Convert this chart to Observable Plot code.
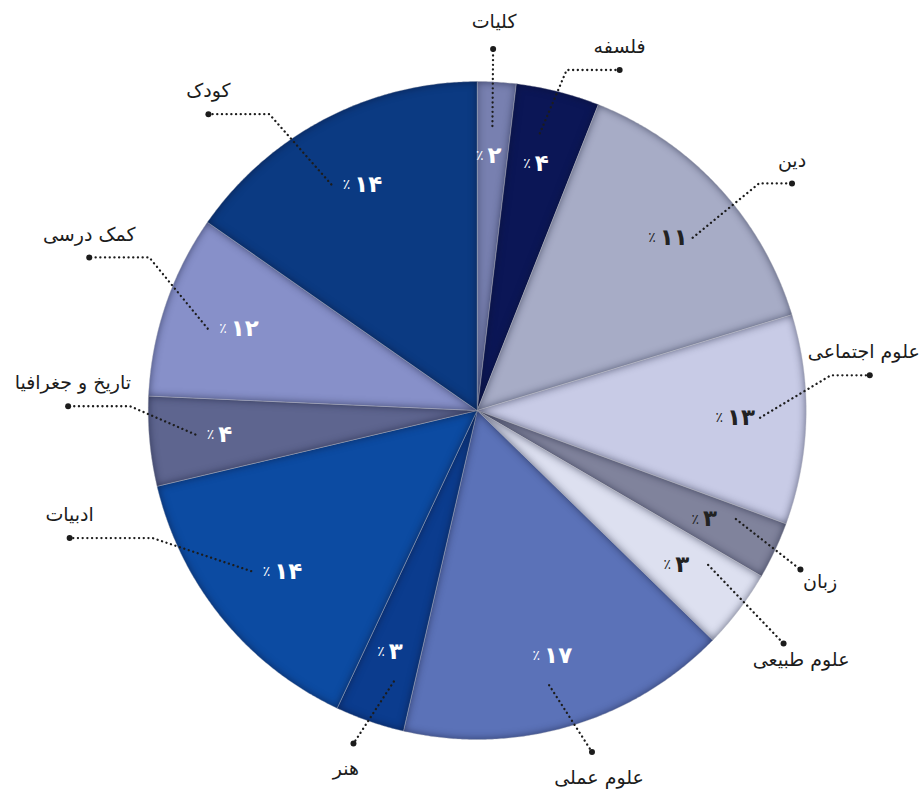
<!DOCTYPE html>
<html><head><meta charset="utf-8">
<script src="https://cdn.jsdelivr.net/npm/d3@7"></script>
<script src="https://cdn.jsdelivr.net/npm/@observablehq/plot@0.6"></script>
<style>html,body{margin:0;padding:0;background:#fff;} #chart svg{display:block;}</style>
</head><body><div id="chart"></div>
<script>
// ---- data (clockwise from 12 o'clock) ----
const categories = ["کلیات","فلسفه","دین","علوم اجتماعی","زبان","علوم طبیعی","علوم عملی","هنر","ادبیات","تاریخ و جغرافیا","کمک درسی","کودک"];
const shares = [1.9, 4.1, 14.3, 10.3, 2.8, 3.9, 16.3, 3.4, 14.3, 4.4, 9.0, 15.3];   // slice sizes as drawn (%)
const percentLabels = [2, 4, 11, 13, 3, 3, 17, 3, 14, 4, 12, 14];                  // printed percentages

// ---- styles / annotation layout ----
const sliceColors = ["#7880b0","#0b1656","#a7acc6","#c8cbe6","#80839c","#dde0f0","#5b72b8","#0b3c8e","#0c4ba2","#5e658f","#8790c9","#0b3a82"];
const percentInk = ["#fff","#fff","#222","#222","#222","#222","#fff","#fff","#fff","#fff","#fff","#fff"];
const calloutNudge = [-0.9, 0.5, 3.8, -7.3, 1.0, 0, -2.2, 1.3, 17.6, 6.1, 6.3, -7.5]; // degrees from slice middle
const calloutReach = [1.1, 1.07, 1.1, 1.08, 1.095, 1.17, 1.095, 1.08, 1.06, 1.055, 1.1, 1.1]; // × radius
const calloutTail = [0, 53, 33, 39, 0, 0, 0, 0, 83, 62, 60, 61];                     // horizontal tail length

const W = 922, H = 793, CX = 476.7, CY = 410, R = 329;
const FONT = "DejaVu Sans, Noto Sans, sans-serif";
const NAME_SIZE = 19;
const deg = Math.PI / 180;
const fa = n => String(n).replace(/\d/g, d => "۰۱۲۳۴۵۶۷۸۹"[d]);
const polar = (a, r) => ({x: r * Math.sin(a), y: r * Math.cos(a)});

const rows = categories.map((name, i) => ({
  name, share: shares[i], pct: percentLabels[i], color: sliceColors[i],
  ink: percentInk[i], nudge: calloutNudge[i], reach: calloutReach[i], tail: calloutTail[i]
}));
const arcs = d3.pie().sort(null).value(d => d.share)(rows);

const slicePts = arcs.flatMap(p => {
  const n = Math.max(2, Math.ceil((p.endAngle - p.startAngle) / (0.4 * deg)));
  const pts = [{x: 0, y: 0}];
  for (let i = 0; i <= n; i++) pts.push(polar(p.startAngle + (p.endAngle - p.startAngle) * i / n, R));
  pts.push({x: 0, y: 0});
  return pts.map(q => ({...q, name: p.data.name, color: p.data.color}));
});

const info = arcs.map(p => {
  const d = p.data, mid = (p.startAngle + p.endAngle) / 2;
  const L = polar(mid, 0.775 * R);
  const s = Math.sin(mid), c = Math.cos(mid);
  const start = Math.abs(s) > 0.4 ? {x: L.x + Math.sign(s) * 28, y: L.y} : {x: L.x, y: L.y + Math.sign(c) * 30};
  const e = mid + d.nudge * deg;
  const bend = polar(e, d.reach * R);
  const end = d.tail ? {x: bend.x + Math.sign(Math.sin(e)) * d.tail, y: bend.y} : bend;
  const txt = d.tail ? {x: end.x, y: end.y + 23} : {x: end.x + Math.sin(e) * 22, y: end.y + Math.cos(e) * 27};
  // keep the name inside the picture
  const half = d.name.length * NAME_SIZE * 0.24;
  txt.x = Math.max(-CX + half + 4, Math.min(W - CX - half - 4, txt.x));
  return {d, L, start, bend, end, txt};
});

const leaderPts = info.flatMap(o => {
  const pts = [o.start, o.bend];
  if (o.d.tail) pts.push(o.end);
  return pts.map(q => ({...q, name: o.d.name}));
});
const endPts = info.map(o => ({...o.end, name: o.d.name}));
const namePts = info.map(o => ({...o.txt, name: o.d.name}));
const pctPts = info.map(o => ({...o.L, pct: o.d.pct, ink: o.d.ink}));

const chart = Plot.plot({
  width: W, height: H, margin: 0,
  x: {domain: [-CX, W - CX], range: [0, W], axis: null},
  y: {domain: [CY - H, CY], range: [H, 0], axis: null},
  color: {type: "identity"},
  marks: [
    Plot.line(slicePts, {x: "x", y: "y", z: "name", fill: "color", stroke: "#ffffff", strokeOpacity: 0.45, strokeWidth: 0.8, curve: "linear"}),
    Plot.line(leaderPts, {x: "x", y: "y", z: "name", stroke: "#1c1c1c", strokeWidth: 2.3, strokeDasharray: "0.1,4.6", strokeLinecap: "round", curve: "linear"}),
    Plot.dot(endPts, {x: "x", y: "y", r: 3, fill: "#1c1c1c"}),
    Plot.text(namePts, {x: "x", y: "y", text: "name", fontSize: NAME_SIZE, fill: "#1c1c1c", fontFamily: FONT}),
    Plot.text(pctPts, {x: "x", y: "y", text: d => "٪", dx: -9, textAnchor: "end", fill: "ink", fontSize: 14, fontFamily: FONT}),
    Plot.text(pctPts, {x: "x", y: "y", text: d => fa(d.pct), dx: -5, textAnchor: "start", fill: "ink", fontSize: 23, fontWeight: "bold", fontFamily: FONT})
  ]
});

// bevel-like inner shadow on the slices
const svg = d3.select(chart);
const f = svg.insert("defs", ":first-child").append("filter")
  .attr("id", "bevel").attr("x", "-10%").attr("y", "-10%").attr("width", "120%").attr("height", "120%")
  .attr("color-interpolation-filters", "sRGB");
f.append("feFlood").attr("flood-color", "#0a0f2a").attr("flood-opacity", 0.6);
f.append("feComposite").attr("in2", "SourceAlpha").attr("operator", "out").attr("result", "outside");
f.append("feGaussianBlur").attr("in", "outside").attr("stdDeviation", 4.5).attr("result", "blur");
f.append("feComposite").attr("in", "blur").attr("in2", "SourceAlpha").attr("operator", "in").attr("result", "inner");
const m = f.append("feMerge");
m.append("feMergeNode").attr("in", "SourceGraphic");
m.append("feMergeNode").attr("in", "inner");
svg.select('g[aria-label="line"]').selectAll("path").attr("filter", "url(#bevel)");

document.getElementById("chart").appendChild(chart);
</script>
</body></html>
